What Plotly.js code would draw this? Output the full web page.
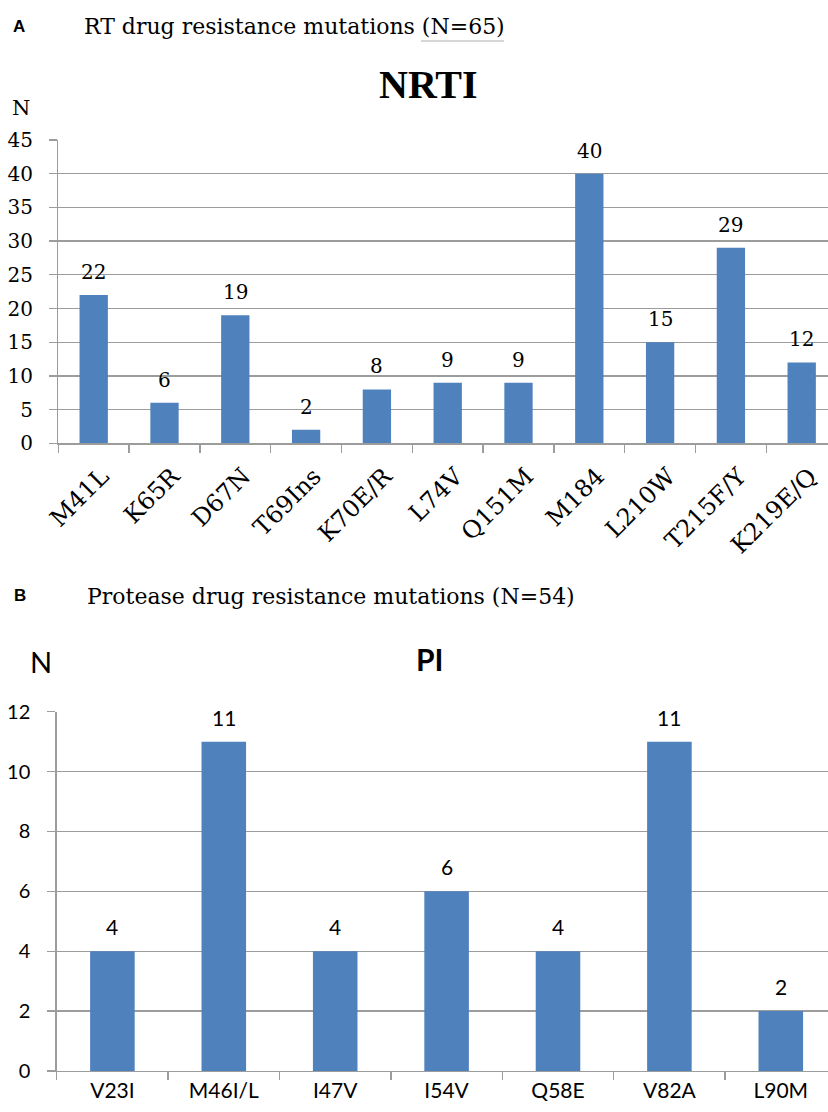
<!DOCTYPE html>
<html><head><meta charset="utf-8">
<script src="https://cdn.plot.ly/plotly-3.0.1.min.js"></script>
<style>html,body{margin:0;padding:0;background:#fff;overflow:hidden}</style>
</head><body><div id="chart" style="width:828px;height:1112px"></div>
<script>
// ---- Data ----
const nrtiCategories = ["M41L","K65R","D67N","T69Ins","K70E/R","L74V","Q151M","M184","L210W","T215F/Y","K219E/Q"];
const nrtiCounts = [22,6,19,2,8,9,9,40,15,29,12];
const nrtiTicks = [0,5,10,15,20,25,30,35,40,45];
const piCategories = ["V23I","M46I/L","I47V","I54V","Q58E","V82A","L90M"];
const piCounts = [4,11,4,6,4,11,2];
const piTicks = [0,2,4,6,8,10,12];

// ---- Style ----
const W = 828, H = 1112;
const px = v => v / W;
const py = v => 1 - v / H;
const SERIF = "DejaVu Serif";
const SANS = "Lato";
const BAR = "#4F81BD";
const GRID = "#9c9c9c";

const traces = [
  {type:"bar", x:nrtiCategories, y:nrtiCounts, xaxis:"x", yaxis:"y", marker:{color:BAR}, hoverinfo:"x+y"},
  {type:"bar", x:piCategories, y:piCounts, xaxis:"x2", yaxis:"y2", marker:{color:BAR}, hoverinfo:"x+y"}
];

const annotations = [];
nrtiCategories.forEach((c,i)=>annotations.push({xref:"x", yref:"y", x:c, y:nrtiCounts[i], text:String(nrtiCounts[i]),
  showarrow:false, yanchor:"bottom", yshift:9, font:{family:SERIF, size:20, color:"#000"}}));
piCategories.forEach((c,i)=>annotations.push({xref:"x2", yref:"y2", x:c, y:piCounts[i], text:String(piCounts[i]),
  showarrow:false, yanchor:"bottom", yshift:10, font:{family:SANS, size:21, color:"#000"}}));

const txt = (x,y,text,font,xanchor) => ({xref:"paper", yref:"paper", x:px(x), y:py(y), text, showarrow:false,
  xanchor:xanchor||"center", yanchor:"middle", font});
annotations.push(txt(19,27,"<b>A</b>",{family:"Liberation Sans", size:17, color:"#000"}));
annotations.push(txt(82,27,"RT drug resistance mutations (N=65)",{family:SERIF, size:22, color:"#000"},"left"));
annotations.push(txt(428.5,85,"<b>NRTI</b>",{family:"Liberation Serif", size:40, color:"#000"}));
annotations.push(txt(20.5,107.5,"N",{family:SERIF, size:21, color:"#000"}));
annotations.push(txt(20,595,"<b>B</b>",{family:"Liberation Sans", size:17, color:"#000"}));
annotations.push(txt(85,596,"Protease drug resistance mutations (N=54)",{family:SERIF, size:22, color:"#000"},"left"));
annotations.push(txt(429,659,"<b>PI</b>",{family:SANS, size:30, color:"#000"}));
annotations.push(txt(41,661.5,"N",{family:SANS, size:29, color:"#000"}));

const axA = {x0:58.3, step:70.8, top:140, bottom:443.3};
const axB = {x0:56.7, step:111.4, top:711.7, bottom:1071};

const layout = {
  width:W, height:H, autosize:false, margin:{l:0,r:0,t:0,b:0},
  paper_bgcolor:"#fff", plot_bgcolor:"#fff", showlegend:false, bargap:0.6,
  xaxis:{domain:[px(axA.x0),1], anchor:"y", type:"category",
    range:[-0.5, (W-axA.x0)/axA.step - 0.5], tickson:"boundaries", ticks:"outside", ticklen:8, tickwidth:1.4,
    tickcolor:GRID, showline:true, linecolor:GRID, linewidth:1.4, showgrid:false, tickangle:-45,
    ticklabelstandoff:8, ticklabelshift:8, tickfont:{family:SERIF, size:24, color:"#000"}, fixedrange:true},
  yaxis:{domain:[py(axA.bottom), py(axA.top)], anchor:"x", range:[0,45], tickvals:nrtiTicks,
    showgrid:true, gridcolor:GRID, gridwidth:1.4, zeroline:false, showline:true, linecolor:GRID, linewidth:1.4,
    ticks:"outside", ticklen:8, tickwidth:1.4, tickcolor:GRID, ticklabelstandoff:12,
    tickfont:{family:SERIF, size:20, color:"#000"}, fixedrange:true},
  xaxis2:{domain:[px(axB.x0),1], anchor:"y2", type:"category",
    range:[-0.5, (W-axB.x0)/axB.step - 0.5], tickson:"boundaries", ticks:"outside", ticklen:8, tickwidth:1.4,
    tickcolor:GRID, showline:true, linecolor:GRID, linewidth:1.4, showgrid:false, tickangle:0,
    ticklabelstandoff:0, tickfont:{family:SANS, size:21, color:"#000"}, fixedrange:true},
  yaxis2:{domain:[py(axB.bottom), py(axB.top)], anchor:"x2", range:[0,12], tickvals:piTicks,
    showgrid:true, gridcolor:GRID, gridwidth:1.4, zeroline:false, showline:true, linecolor:GRID, linewidth:1.4,
    ticks:"outside", ticklen:8, tickwidth:1.4, tickcolor:GRID, ticklabelstandoff:13,
    tickfont:{family:SANS, size:20, color:"#000"}, fixedrange:true},
  annotations,
  shapes:[{type:"line", xref:"paper", yref:"paper", x0:px(421), x1:px(504), y0:py(41), y1:py(41),
    line:{color:"#b0b0b0", width:1.2}}]
};

Plotly.newPlot("chart", traces, layout, {displayModeBar:false, staticPlot:true});
</script></body></html>
